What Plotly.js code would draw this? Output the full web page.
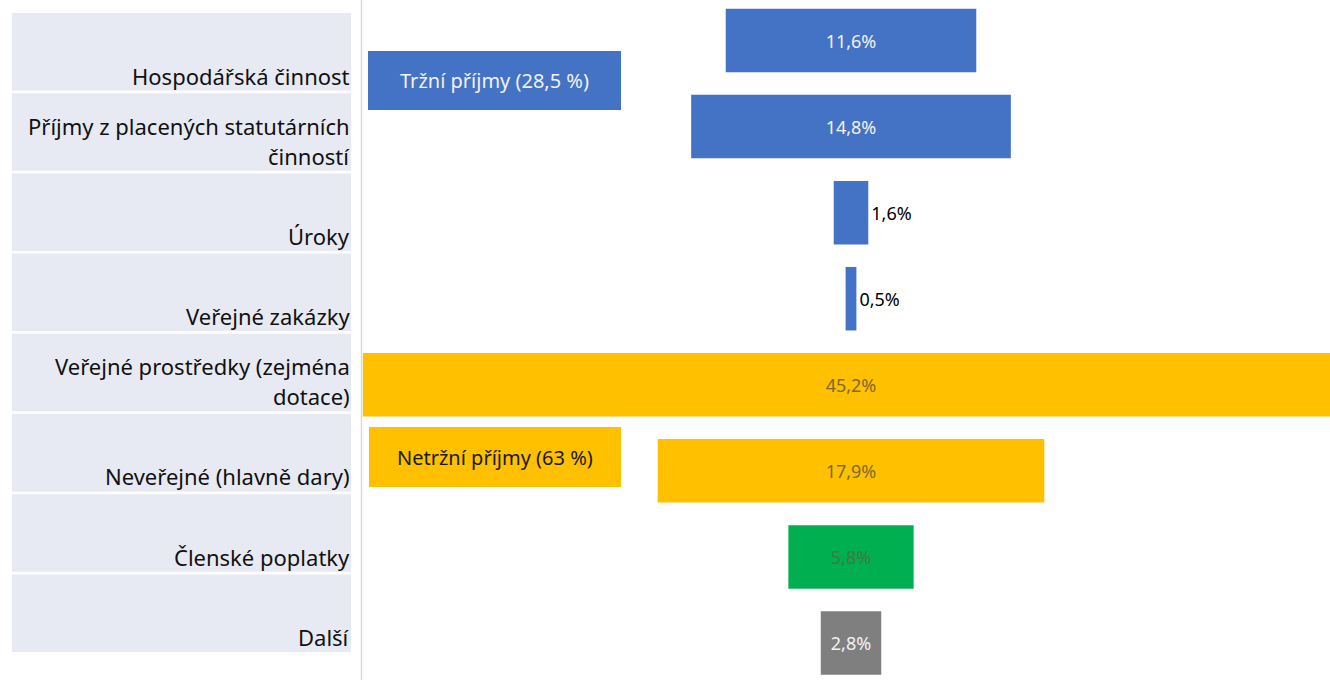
<!DOCTYPE html>
<html>
<head>
<meta charset="utf-8">
<script src="https://cdn.plot.ly/plotly-3.0.1.min.js"></script>
<style>
html,body{margin:0;padding:0;background:#fff;}
#chart{width:1330px;height:680px;}
</style>
</head>
<body>
<div id="chart"></div>
<script>
const categories = [
  'Hospodářská činnost',
  'Příjmy z placených statutárních<br>činností',
  'Úroky',
  'Veřejné zakázky',
  'Veřejné prostředky (zejména<br>dotace)',
  'Neveřejné (hlavně dary)',
  'Členské poplatky',
  'Další'
];
const values = [11.6, 14.8, 1.6, 0.5, 45.2, 17.9, 5.8, 2.8];
const valueLabels = ['11,6%', '14,8%', '1,6%', '0,5%', '45,2%', '17,9%', '5,8%', '2,8%'];
const barColors = ['#4472c4', '#4472c4', '#4472c4', '#4472c4', '#ffc000', '#ffc000', '#00b050', '#7f7f7f'];
const valueTextColors = ['#f2f2f2', '#f2f2f2', '#000000', '#000000', '#7f6a2a', '#7f6a2a', '#3a7d3e', '#f2f2f2'];
const valueTextPositions = ['inside', 'inside', 'outside', 'outside', 'inside', 'inside', 'inside', 'inside'];
const groupLabels = ['Tržní příjmy (28,5 %)', 'Netržní příjmy (63 %)'];
const groupColors = ['#4472c4', '#ffc000'];
const groupTextColors = ['#f2f2f2', '#1a1a1a'];

const W = 1330, H = 680;
const FONT = '"Noto Sans", "Open Sans", sans-serif';
const px = x => x / W;
const py = y => 1 - y / H;

const idx = values.map((_, i) => i);

const trace = {
  type: 'bar',
  orientation: 'h',
  y: idx,
  x: values,
  base: values.map(v => -v / 2),
  marker: { color: barColors, line: { width: 0 } },
  text: valueLabels,
  textposition: valueTextPositions,
  insidetextanchor: 'middle',
  textangle: 0,
  constraintext: 'none',
  cliponaxis: true,
  textfont: { family: FONT, size: 18, color: valueTextColors },
  hoverinfo: 'skip'
};

const shapes = [];
const annotations = [];

// left label table
categories.forEach((c, i) => {
  const top = 13 + 80.2 * i;
  const bottom = top + 77.5;
  shapes.push({
    type: 'rect', xref: 'paper', yref: 'paper',
    x0: px(12), x1: px(351), y0: py(bottom), y1: py(top),
    fillcolor: '#e8eaf3', line: { width: 0 }, layer: 'below'
  });
  const lines = c.split('<br>');
  lines.forEach((ln, j) => {
    const centerY = bottom - 15 - 30 * (lines.length - 1 - j);
    annotations.push({
      xref: 'paper', yref: 'paper',
      x: px(352), y: py(centerY),
      xanchor: 'right', yanchor: 'middle', align: 'right',
      text: ln, showarrow: false,
      font: { family: FONT, size: 22, color: '#111' }
    });
  });
});

// separator line
shapes.push({
  type: 'line', xref: 'paper', yref: 'paper',
  x0: px(361.5), x1: px(361.5), y0: 0, y1: 1,
  line: { color: '#d9d9d9', width: 1.5 }
});

// group boxes
const groupBoxes = [[368, 621, 51, 110], [369, 621, 427, 487]];
groupLabels.forEach((g, i) => {
  const b = groupBoxes[i];
  shapes.push({
    type: 'rect', xref: 'paper', yref: 'paper',
    x0: px(b[0]), x1: px(b[1]), y0: py(b[3]), y1: py(b[2]),
    fillcolor: groupColors[i], line: { width: 0 }, layer: 'above'
  });
  annotations.push({
    xref: 'paper', yref: 'paper',
    x: px((b[0] + b[1]) / 2), y: py((b[2] + b[3]) / 2),
    xanchor: 'center', yanchor: 'middle',
    text: g, showarrow: false,
    font: { family: FONT, size: 20, color: groupTextColors[i] }
  });
});

const layout = {
  width: W, height: H,
  margin: { l: 0, r: 0, t: 0, b: 0 },
  paper_bgcolor: '#ffffff',
  plot_bgcolor: '#ffffff',
  showlegend: false,
  bargap: 0.262,
  xaxis: {
    domain: [362 / W, 1],
    range: [(362 - 851) / 21.6, (1330 - 851) / 21.6],
    visible: false, fixedrange: true
  },
  yaxis: {
    domain: [0, 1],
    range: [(680 - 40.5) / 86.07, -40.5 / 86.07],
    visible: false, fixedrange: true
  },
  shapes: shapes,
  annotations: annotations,
  font: { family: FONT }
};

Plotly.newPlot('chart', [trace], layout, { displayModeBar: false, staticPlot: true });
</script>
</body>
</html>
